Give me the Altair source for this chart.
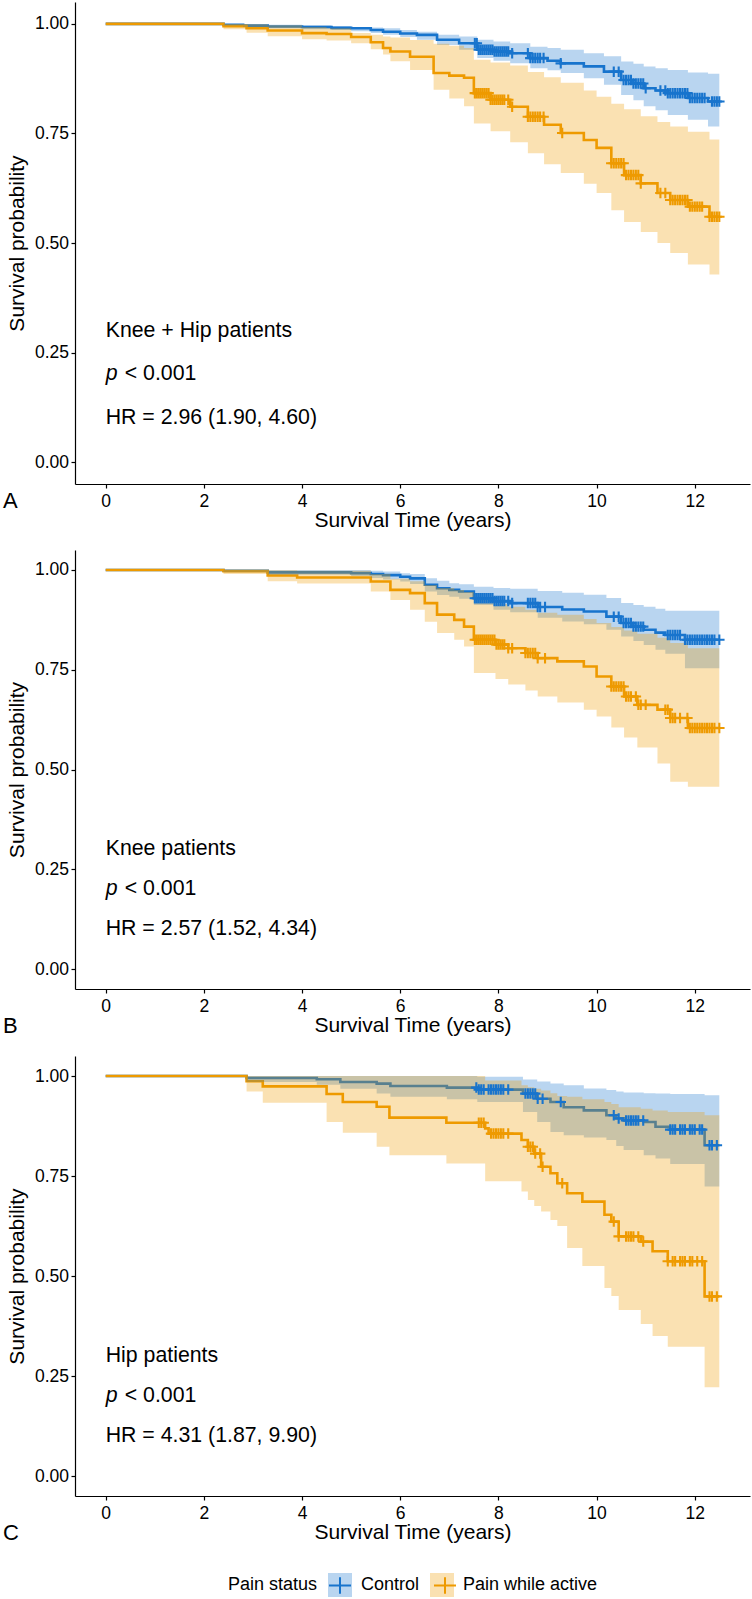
import altair as alt
import numpy as np
import pandas as pd

GROUPS = ["Control", "Pain while active"]
COLORS = ["#1874CD", "#EE9A00"]

# ---------------- Panel A : Knee + Hip ----------------
A_CTRL_T = [0, 2.4, 2.8, 3.3, 4.0, 4.6, 5.0, 5.4, 5.65, 6.0, 6.34, 6.75, 7.2, 7.57, 7.9, 8.24, 8.65, 9.0, 9.27, 9.74, 10.15, 10.5, 10.75, 10.96, 11.2, 11.45, 11.86, 12.27, 12.5]
A_CTRL_S = [1.0, 0.998, 0.996, 0.994, 0.993, 0.991, 0.990, 0.986, 0.982, 0.978, 0.975, 0.964, 0.956, 0.941, 0.937, 0.933, 0.922, 0.916, 0.910, 0.903, 0.891, 0.872, 0.864, 0.853, 0.848, 0.842, 0.831, 0.823, 0.823]
A_CTRL_LO = [1.0, 0.996, 0.993, 0.990, 0.988, 0.986, 0.983, 0.979, 0.975, 0.970, 0.964, 0.952, 0.941, 0.922, 0.916, 0.910, 0.899, 0.894, 0.888, 0.876, 0.861, 0.838, 0.826, 0.812, 0.803, 0.792, 0.781, 0.766, 0.766]
A_CTRL_HI = [1.0, 1.0, 0.999, 0.998, 0.997, 0.995, 0.993, 0.992, 0.990, 0.986, 0.982, 0.975, 0.971, 0.964, 0.960, 0.956, 0.948, 0.945, 0.941, 0.933, 0.926, 0.914, 0.909, 0.903, 0.899, 0.895, 0.889, 0.886, 0.886]

A_PAIN_T = [0, 2.4, 2.87, 3.3, 4.0, 4.5, 5.0, 5.4, 5.65, 5.8, 6.2, 6.68, 7.0, 7.3, 7.5, 7.84, 8.24, 8.6, 8.93, 9.27, 9.74, 10.0, 10.3, 10.56, 10.9, 11.24, 11.5, 11.86, 12.3, 12.5]
A_PAIN_S = [1.0, 0.995, 0.990, 0.985, 0.979, 0.977, 0.970, 0.958, 0.945, 0.937, 0.925, 0.888, 0.882, 0.877, 0.842, 0.827, 0.811, 0.788, 0.770, 0.751, 0.735, 0.717, 0.682, 0.655, 0.636, 0.614, 0.598, 0.583, 0.560, 0.560]
A_PAIN_HI = [1.0, 1.0, 0.999, 0.997, 0.993, 0.990, 0.979, 0.975, 0.971, 0.969, 0.963, 0.955, 0.950, 0.945, 0.918, 0.912, 0.905, 0.890, 0.878, 0.866, 0.848, 0.834, 0.818, 0.805, 0.789, 0.776, 0.766, 0.754, 0.736, 0.736]
A_PAIN_LO = [1.0, 0.988, 0.980, 0.972, 0.965, 0.962, 0.956, 0.942, 0.930, 0.915, 0.895, 0.850, 0.830, 0.812, 0.773, 0.755, 0.730, 0.705, 0.680, 0.660, 0.635, 0.614, 0.575, 0.548, 0.525, 0.500, 0.477, 0.451, 0.428, 0.428]

A_CTRL_C = [7.52, 7.56, 7.6, 7.64, 7.68, 7.72, 7.76, 7.8, 7.84, 7.88, 7.92, 7.96, 8.0, 8.04, 8.08, 8.12, 8.16, 8.2, 8.28, 8.6, 8.65, 8.7, 8.75, 8.8, 8.85, 8.92, 9.27, 10.35, 10.45, 10.55, 10.6, 10.65, 10.7, 10.75, 10.8, 10.85, 10.9, 10.95, 11.0, 11.3, 11.4, 11.45, 11.5, 11.55, 11.6, 11.65, 11.7, 11.75, 11.8, 11.85, 11.9, 11.95, 12.0, 12.05, 12.1, 12.15, 12.2, 12.35, 12.4, 12.45, 12.5]
A_PAIN_C = [7.52, 7.56, 7.6, 7.64, 7.68, 7.72, 7.76, 7.8, 7.84, 7.88, 7.92, 7.96, 8.0, 8.04, 8.08, 8.12, 8.2, 8.28, 8.6, 8.65, 8.7, 8.75, 8.8, 8.85, 8.92, 9.3, 10.3, 10.35, 10.4, 10.45, 10.5, 10.55, 10.6, 10.65, 10.7, 10.75, 10.8, 10.85, 10.9, 11.3, 11.4, 11.5, 11.55, 11.6, 11.65, 11.7, 11.75, 11.8, 11.85, 11.9, 11.95, 12.0, 12.05, 12.1, 12.15, 12.3, 12.35, 12.4, 12.45, 12.5]

# ---------------- Panel B : Knee ----------------
B_CTRL_T = [0, 2.4, 3.3, 5.0, 5.4, 5.65, 6.0, 6.2, 6.5, 6.75, 7.0, 7.2, 7.5, 7.9, 8.24, 8.8, 9.3, 9.74, 10.2, 10.5, 10.75, 10.96, 11.2, 11.4, 11.8, 12.5]
B_CTRL_S = [1.0, 0.998, 0.994, 0.992, 0.990, 0.987, 0.983, 0.979, 0.963, 0.954, 0.950, 0.946, 0.929, 0.922, 0.917, 0.907, 0.901, 0.896, 0.883, 0.867, 0.858, 0.850, 0.843, 0.837, 0.825, 0.825]
B_CTRL_HI = [1.0, 1.0, 1.0, 1.0, 0.998, 0.996, 0.992, 0.990, 0.979, 0.973, 0.967, 0.964, 0.958, 0.955, 0.953, 0.947, 0.943, 0.938, 0.930, 0.917, 0.912, 0.908, 0.903, 0.898, 0.898, 0.898]
B_CTRL_LO = [1.0, 0.994, 0.988, 0.985, 0.980, 0.976, 0.971, 0.965, 0.946, 0.937, 0.933, 0.928, 0.912, 0.900, 0.894, 0.880, 0.871, 0.864, 0.850, 0.833, 0.822, 0.812, 0.800, 0.790, 0.754, 0.754]

B_PAIN_T = [0, 2.4, 3.3, 3.9, 5.4, 5.8, 6.2, 6.5, 6.75, 7.1, 7.3, 7.5, 7.94, 8.2, 8.55, 8.8, 9.2, 9.74, 10.0, 10.3, 10.56, 10.83, 11.24, 11.5, 11.86, 12.5]
B_PAIN_S = [1.0, 0.997, 0.986, 0.981, 0.971, 0.950, 0.942, 0.917, 0.888, 0.875, 0.858, 0.825, 0.813, 0.804, 0.792, 0.779, 0.771, 0.758, 0.733, 0.708, 0.683, 0.662, 0.650, 0.629, 0.604, 0.604]
B_PAIN_HI = [1.0, 1.0, 0.999, 0.998, 0.990, 0.978, 0.972, 0.962, 0.955, 0.950, 0.945, 0.933, 0.915, 0.908, 0.900, 0.893, 0.888, 0.877, 0.867, 0.857, 0.848, 0.840, 0.830, 0.817, 0.804, 0.804]
B_PAIN_LO = [1.0, 0.990, 0.972, 0.966, 0.946, 0.925, 0.900, 0.870, 0.842, 0.825, 0.808, 0.742, 0.727, 0.713, 0.698, 0.683, 0.668, 0.650, 0.633, 0.605, 0.580, 0.555, 0.515, 0.469, 0.457, 0.457]

B_CTRL_C = [7.52, 7.56, 7.6, 7.64, 7.68, 7.72, 7.76, 7.8, 7.84, 7.88, 7.92, 7.96, 8.0, 8.04, 8.08, 8.12, 8.2, 8.28, 8.6, 8.65, 8.7, 8.75, 8.8, 8.85, 8.95, 10.35, 10.45, 10.55, 10.6, 10.65, 10.7, 10.75, 10.8, 10.85, 10.9, 10.95, 11.45, 11.5, 11.55, 11.6, 11.65, 11.7, 11.8, 11.85, 11.9, 11.95, 12.0, 12.05, 12.1, 12.15, 12.2, 12.25, 12.3, 12.35, 12.4, 12.5]
B_PAIN_C = [7.52, 7.56, 7.6, 7.64, 7.68, 7.72, 7.76, 7.8, 7.84, 7.88, 7.92, 7.96, 8.0, 8.04, 8.08, 8.12, 8.2, 8.28, 8.55, 8.6, 8.65, 8.7, 8.75, 8.8, 8.95, 10.3, 10.35, 10.4, 10.45, 10.5, 10.55, 10.6, 10.65, 10.7, 10.8, 10.85, 10.9, 11.0, 11.4, 11.45, 11.5, 11.55, 11.6, 11.7, 11.85, 11.9, 11.95, 12.0, 12.05, 12.1, 12.15, 12.2, 12.25, 12.3, 12.35, 12.4, 12.5]

# ---------------- Panel C : Hip ----------------
C_CTRL_T = [0, 2.87, 4.3, 4.78, 5.52, 5.8, 6.95, 7.57, 8.5, 8.79, 9.06, 9.33, 9.74, 10.2, 10.4, 10.55, 10.96, 11.2, 11.5, 12.2, 12.5]
C_CTRL_S = [1.0, 0.995, 0.992, 0.985, 0.981, 0.975, 0.971, 0.966, 0.956, 0.943, 0.935, 0.922, 0.914, 0.902, 0.894, 0.889, 0.885, 0.873, 0.866, 0.827, 0.827]
C_CTRL_HI = [1.0, 1.0, 1.0, 1.0, 1.0, 1.0, 1.0, 0.998, 0.991, 0.986, 0.981, 0.977, 0.969, 0.965, 0.961, 0.959, 0.957, 0.956, 0.955, 0.952, 0.952]
C_CTRL_LO = [1.0, 0.985, 0.978, 0.968, 0.956, 0.948, 0.942, 0.935, 0.910, 0.885, 0.860, 0.852, 0.846, 0.840, 0.825, 0.815, 0.802, 0.794, 0.780, 0.724, 0.724]

C_PAIN_T = [0, 2.87, 3.2, 4.5, 4.83, 5.52, 5.78, 6.94, 7.73, 7.8, 8.47, 8.6, 8.73, 8.87, 9.06, 9.2, 9.4, 9.71, 10.16, 10.3, 10.45, 10.9, 11.14, 11.45, 12.2, 12.5]
C_PAIN_S = [1.0, 0.987, 0.974, 0.955, 0.935, 0.923, 0.896, 0.883, 0.869, 0.856, 0.840, 0.823, 0.806, 0.773, 0.757, 0.732, 0.707, 0.686, 0.653, 0.636, 0.599, 0.586, 0.562, 0.537, 0.449, 0.449]
C_PAIN_HI = [1.0, 1.0, 1.0, 1.0, 1.0, 1.0, 1.0, 1.0, 0.989, 0.989, 0.977, 0.972, 0.968, 0.964, 0.957, 0.950, 0.948, 0.942, 0.935, 0.930, 0.922, 0.918, 0.914, 0.910, 0.902, 0.902]
C_PAIN_LO = [1.0, 0.961, 0.933, 0.885, 0.858, 0.823, 0.802, 0.781, 0.737, 0.737, 0.711, 0.690, 0.675, 0.661, 0.640, 0.625, 0.570, 0.525, 0.470, 0.450, 0.415, 0.380, 0.350, 0.323, 0.222, 0.222]

C_CTRL_C = [7.55, 7.6, 7.65, 7.7, 7.8, 7.85, 7.9, 7.95, 8.0, 8.05, 8.1, 8.2, 8.55, 8.6, 8.65, 8.7, 8.75, 8.8, 8.9, 9.27, 10.35, 10.45, 10.6, 10.65, 10.7, 10.75, 10.8, 10.85, 10.95, 11.5, 11.55, 11.6, 11.7, 11.75, 11.8, 11.9, 11.95, 12.0, 12.1, 12.15, 12.3, 12.35, 12.45]
C_PAIN_C = [7.6, 7.65, 7.7, 7.85, 7.9, 7.95, 8.0, 8.05, 8.1, 8.2, 8.6, 8.65, 8.7, 8.75, 8.85, 8.9, 9.3, 10.35, 10.45, 10.6, 10.65, 10.7, 10.75, 10.85, 10.95, 11.45, 11.55, 11.6, 11.7, 11.75, 11.8, 11.9, 11.95, 12.05, 12.15, 12.3, 12.35, 12.45]

PANEL_NAMES = ["Knee + Hip patients", "Knee patients", "Hip patients"]
PANEL_HR = ["HR = 2.96 (1.90, 4.60)", "HR = 2.57 (1.52, 4.34)", "HR = 4.31 (1.87, 9.90)"]
PANEL_LETTERS = ["A", "B", "C"]
X_TICKS = [0, 2, 4, 6, 8, 10, 12]
Y_TICKS = [0, 0.25, 0.5, 0.75, 1.0]

FONT = "Liberation Sans"
CROSS = "M-1,0H1M0,-1V1"
KEY_CROSS = "M-1,0H1M0,-0.75V0.75"
ANN_SIZE = 21.3


def curve_frame(t, s, lo, hi, group):
    return pd.DataFrame({"time": t, "surv": s, "lower": lo, "upper": hi,
                         "group": group, "band": group})


def censor_frame(t_steps, s_steps, cens, group):
    t_steps = np.asarray(t_steps)
    s_steps = np.asarray(s_steps)
    idx = np.searchsorted(t_steps, np.asarray(cens), side="right") - 1
    return pd.DataFrame({"time": cens, "surv": s_steps[idx], "group": group})


XSCALE = alt.Scale(domain=[-0.625, 13.125], nice=False, zero=False)
YSCALE = alt.Scale(domain=[-0.05, 1.05], nice=False, zero=False)
XAXIS = alt.Axis(values=X_TICKS, format="d", labelPadding=4, titlePadding=0)
YAXIS = alt.Axis(values=Y_TICKS, format=".2f", labelPadding=2.5, titlePadding=7)
XT = "Survival Time (years)"
YT = "Survival probability"

LEG_X = 153
LEG_Y = 517
COMMON_LEG = dict(title="Pain status", orient="none", legendX=LEG_X, legendY=LEG_Y,
                  direction="horizontal", titleOrient="left", titleAnchor="middle",
                  titleBaseline="middle", titleFontSize=18, titleFontWeight="normal",
                  titleColor="black", titleFont=FONT, labelFont=FONT, labelFontSize=18,
                  labelColor="black", labelOffset=9, columnPadding=10, titlePadding=10,
                  padding=0)
LEG_FILL = alt.Legend(symbolType="square", symbolSize=576, symbolStrokeWidth=0,
                      symbolOpacity=0.3, **COMMON_LEG)
LEG_STROKE = alt.Legend(symbolType=KEY_CROSS, symbolSize=484, symbolStrokeWidth=2,
                        symbolOpacity=1, titleOpacity=0, labelOpacity=0, **COMMON_LEG)


def panel(i, ctrl, pain, ctrl_c, pain_c, height, letter_y, show_legend):
    curves = pd.concat([curve_frame(*ctrl, GROUPS[0]), curve_frame(*pain, GROUPS[1])])
    cens = pd.concat([censor_frame(ctrl[0], ctrl[1], ctrl_c, GROUPS[0]),
                      censor_frame(pain[0], pain[1], pain_c, GROUPS[1])])
    x = alt.X("time:Q", scale=XSCALE, axis=XAXIS, title=XT)
    stroke = alt.Stroke("group:N", scale=alt.Scale(domain=GROUPS, range=COLORS),
                        legend=LEG_STROKE if show_legend else None)
    fill = alt.Fill("band:N", scale=alt.Scale(range=COLORS),
                    legend=LEG_FILL if show_legend else None)

    base = alt.Chart(curves)
    lines = base.mark_line(interpolate="step-after", strokeWidth=2.6).encode(
        x=x, y=alt.Y("surv:Q", scale=YSCALE, axis=YAXIS, title=YT), stroke=stroke)
    bands = base.mark_area(interpolate="step-after", opacity=0.3).encode(
        x=x, y=alt.Y("lower:Q", scale=YSCALE, axis=YAXIS, title=YT), y2="upper:Q", fill=fill)
    marks = alt.Chart(cens).mark_point(shape=CROSS, size=110, strokeWidth=2.1,
                                       filled=False, opacity=1).encode(
        x=x, y=alt.Y("surv:Q", scale=YSCALE, axis=YAXIS, title=YT), stroke=stroke)

    ann = pd.DataFrame({"time": [0, 0], "y": [0.3, 0.1],
                        "label": [PANEL_NAMES[i], PANEL_HR[i]]})
    ann_p = pd.DataFrame({"time": [0], "y": [0.2], "label": ["p"]})
    ann_v = pd.DataFrame({"time": [0], "y": [0.2], "label": ["< 0.001"]})
    yt = alt.Y("y:Q", scale=YSCALE, axis=YAXIS, title=YT)
    t1 = alt.Chart(ann).mark_text(align="left", baseline="middle", fontSize=ANN_SIZE,
                                  font=FONT, color="black").encode(x=x, y=yt, text="label:N")
    t2 = alt.Chart(ann_p).mark_text(align="left", baseline="middle", fontSize=ANN_SIZE,
                                    font=FONT, fontStyle="italic", color="black").encode(
        x=x, y=yt, text="label:N")
    t3 = alt.Chart(ann_v).mark_text(align="left", baseline="middle", fontSize=ANN_SIZE, dx=19,
                                    font=FONT, color="black").encode(x=x, y=yt, text="label:N")
    letter = alt.Chart(pd.DataFrame({"label": [PANEL_LETTERS[i]]})).mark_text(
        align="left", baseline="middle", fontSize=22, font=FONT, color="black").encode(
        x=alt.value(-72), y=alt.value(letter_y), text="label:N")

    return alt.layer(lines, bands, marks, t1, t2, t3, letter).properties(
        width=675, height=height)


pA = panel(0, (A_CTRL_T, A_CTRL_S, A_CTRL_LO, A_CTRL_HI),
           (A_PAIN_T, A_PAIN_S, A_PAIN_LO, A_PAIN_HI), A_CTRL_C, A_PAIN_C, 482, 499, False)
pB = panel(1, (B_CTRL_T, B_CTRL_S, B_CTRL_LO, B_CTRL_HI),
           (B_PAIN_T, B_PAIN_S, B_PAIN_LO, B_PAIN_HI), B_CTRL_C, B_PAIN_C, 439, 476, False)
pC = panel(2, (C_CTRL_T, C_CTRL_S, C_CTRL_LO, C_CTRL_HI),
           (C_PAIN_T, C_PAIN_S, C_PAIN_LO, C_PAIN_HI), C_CTRL_C, C_PAIN_C, 440, 477, True)

chart = alt.vconcat(pA, pB, pC, spacing=19).resolve_scale(
    fill="independent", stroke="independent"
).configure(
    font=FONT, padding={"left": 3, "top": 2, "right": 2, "bottom": 0}
).configure_view(stroke=None).configure_axis(
    domainColor="black", domainWidth=1.2, tickColor="black", tickWidth=1.2, tickSize=4,
    labelColor="black", labelFontSize=17.5, labelFont=FONT, titleFont=FONT,
    titleFontSize=21, titleFontWeight="normal", titleColor="black", grid=False
)

chart.save("out.html", embed_options={"renderer": "svg", "actions": False})
